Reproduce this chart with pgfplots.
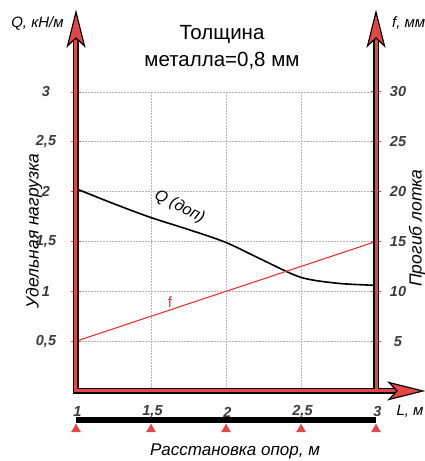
\documentclass[border=0pt]{standalone}
\usepackage{fontspec}
\setmainfont{Liberation Sans}
\usepackage{pgfplots}
\pgfplotsset{compat=1.18}
\usetikzlibrary{calc}
\definecolor{axred}{RGB}{226,70,70}
\definecolor{fred}{RGB}{235,50,50}
\definecolor{tickgray}{RGB}{60,60,60}
\pgfplotsset{
 common/.style={scale only axis, width=300pt, height=299pt, xmin=1, xmax=3, ymin=0,
  axis line style={draw=none}, clip=false,
  ticklabel style={font=\fontsize{14.5}{14.5}\selectfont\bfseries\itshape, text=tickgray},
  /pgf/number format/use comma, /pgf/number format/assume math mode=true,
  major tick length=10pt, tick align=center, tick style={draw=axred, line width=1pt},
 }
}
\tikzset{ahead/.style={fill=axred, draw=black, line width=1.2pt, line join=miter}}
\begin{document}
\begin{tikzpicture}
\begin{axis}[common, ymax=3,
 xtick={1,1.5,2,2.5,3}, ytick={0.5,1,...,3},
 xtick style={draw=none}, ytick pos=left,
 grid=major, grid style={gray!60, dash pattern=on 2pt off 1pt, line width=0.8pt},
 yticklabel style={anchor=center, xshift=-25pt},
 xticklabel style={anchor=center, yshift=-16pt, xshift=1.5pt},
]
\addplot[black, line width=1.6pt, smooth, tension=0.5] coordinates {(1,2.03)(1.25,1.88)(1.5,1.74)(1.75,1.62)(2,1.49)(2.25,1.31)(2.5,1.14)(2.75,1.08)(3,1.06)};
\addplot[black, line width=5.5pt] coordinates {(1,-0.29)(3,-0.29)};
\addplot[only marks, mark=triangle*, mark size=5.2pt, color=axred] coordinates {(1,-0.385)(1.5,-0.385)(2,-0.385)(2.5,-0.385)(3,-0.385)};
\node[rotate=-27, font=\fontsize{16}{16}\selectfont\itshape] at (axis cs:1.69,1.85) {Q (доп)};
\coordinate (O) at (axis cs:1,0);
\end{axis}
\begin{axis}[common, ymax=30, xtick=\empty, ytick={5,10,...,30}, ytick pos=right,
 yticklabel style={anchor=center, xshift=17pt}]
\addplot[fred, line width=1.1pt] coordinates {(1,5)(3,15)};
\node[fred, font=\fontsize{15}{15}\selectfont] at (axis cs:1.627,8.93) {f};
\end{axis}
\coordinate (A) at ($(O)+(0,356pt)$);
\coordinate (C) at ($(O)+(324pt,0)$);
\coordinate (R) at ($(O)+(300pt,0)$);
\coordinate (E) at ($(O)+(300pt,356pt)$);
\foreach \st in {{black, line width=6.4pt}, {axred, line width=3pt}} {
  \draw[style/.expanded=\st, line join=miter] (A) -- (O) -- (C);
  \draw[style/.expanded=\st] (R) -- (E);
}
\filldraw[ahead] ($(O)+(0,379pt)$) -- ++(-8.5pt,-34pt) -- ++(8.5pt,8pt) -- ++(8.5pt,-8pt) -- cycle;
\filldraw[ahead] ($(O)+(300pt,379pt)$) -- ++(-8.5pt,-34pt) -- ++(8.5pt,8pt) -- ++(8.5pt,-8pt) -- cycle;
\filldraw[ahead] ($(O)+(347pt,0)$) -- ++(-34pt,8.5pt) -- ++(8pt,-8.5pt) -- ++(-8pt,-8.5pt) -- cycle;
\node[anchor=base, font=\fontsize{20.5}{20.5}\selectfont] at ($(O)+(146pt,351pt)$) {Толщина};
\node[anchor=base, font=\fontsize{20.5}{20.5}\selectfont] at ($(O)+(146pt,324pt)$) {металла=0,8 мм};
\node[anchor=base, font=\fontsize{15}{15}\selectfont\itshape] at ($(O)+(-38.5pt,363pt)$) {Q, кН/м};
\node[anchor=base west, inner sep=0pt, font=\fontsize{15}{15}\selectfont\itshape] at ($(O)+(316pt,363pt)$) {f, мм};
\node[rotate=90, font=\fontsize{17.5}{17.5}\selectfont\itshape] at ($(O)+(-42pt,160pt)$) {Удельная нагрузка};
\node[rotate=90, font=\fontsize{17.5}{17.5}\selectfont\itshape] at ($(O)+(341pt,163pt)$) {Прогиб лотка};
\node[font=\fontsize{15}{15}\selectfont\itshape] at ($(O)+(334pt,-20pt)$) {L, м};
\node[font=\fontsize{17}{17}\selectfont\itshape] at ($(O)+(159pt,-60pt)$) {Расстановка опор, м};
\pgfresetboundingbox
\path ($(O)+(-76pt,-70pt)$) rectangle ($(O)+(349pt,391pt)$);
\end{tikzpicture}
\end{document}
